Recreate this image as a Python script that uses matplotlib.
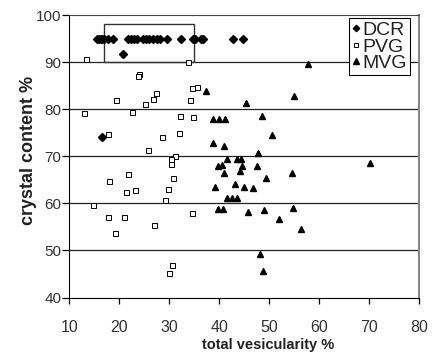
import matplotlib
matplotlib.use('Agg')
import matplotlib.pyplot as plt
from matplotlib.patches import Rectangle

plt.rcParams['font.family'] = ['Liberation Sans', 'DejaVu Sans']

# DCR samples (crystal content ~95 %)
dcr_x = [15.6, 16.0, 16.3, 16.6, 17.0, 17.7, 18.8, 21.8, 22.3, 22.9, 23.6, 24.8, 25.3,
         26.0, 26.7, 27.5, 28.1, 29.5, 32.3, 34.7, 35.1, 36.3, 36.7, 42.8, 44.7, 20.8, 16.6]
dcr_y = [94.8] * 25 + [91.8, 74.1]

# PVG samples
pvg_x = [13.4, 33.7, 23.9, 23.8, 34.5, 35.6, 27.4, 26.8, 19.3, 25.2, 34.1, 13.0, 22.6,
         32.1, 34.8, 17.8, 28.5, 31.9, 25.8, 31.1, 30.3, 30.3, 21.7, 18.0, 30.7, 23.1,
         21.3, 29.8, 29.1, 14.8, 17.7, 21.0, 34.6, 27.0, 19.2, 30.6, 29.9]
pvg_y = [90.7, 90.1, 87.4, 87.1, 84.6, 84.7, 83.4, 82.2, 81.9, 81.0, 81.9, 79.1, 79.3,
         78.5, 78.3, 74.8, 74.0, 74.9, 71.3, 70.1, 69.4, 68.3, 66.2, 64.8, 65.3, 62.8,
         62.4, 63.0, 60.7, 59.6, 57.1, 57.1, 57.9, 55.5, 53.6, 47.0, 45.3]

# MVG samples
mvg_x = [37.3, 45.3, 38.8, 40.0, 41.2, 57.8, 55.0, 48.6, 50.6, 47.8, 44.4, 43.5, 44.5,
         44.2, 47.6, 70.1, 54.6, 49.3, 44.9, 46.7, 45.7, 49.0, 54.7, 52.0, 56.4, 48.1,
         48.8, 38.7, 41.0, 41.5, 39.7, 40.5, 41.0, 39.2, 43.1, 41.5, 42.6, 43.5, 39.7, 40.7]
mvg_y = [83.8, 81.3, 77.9, 77.9, 78.0, 89.5, 82.9, 78.5, 74.5, 70.6, 69.4, 69.4, 67.9,
         66.8, 67.9, 68.6, 66.5, 65.4, 63.4, 63.3, 58.2, 58.6, 59.0, 56.6, 54.5, 49.3,
         45.6, 72.9, 72.2, 69.4, 67.9, 68.1, 66.5, 63.4, 64.1, 61.1, 61.1, 61.1, 58.8, 58.8]

x_ticks = [10, 20, 30, 40, 50, 60, 70, 80]
y_ticks = [40, 50, 60, 70, 80, 90, 100]

fig = plt.figure(figsize=(4.46, 3.60), dpi=100)
ax = fig.add_axes([0.1558, 0.1736, 0.7837, 0.7847])

for y in [50, 60, 70, 80, 90]:
    ax.axhline(y, color='#222222', lw=0.9, zorder=1)

ax.add_patch(Rectangle((17, 90), 18, 8, fill=False, edgecolor='#333333', lw=1.0, zorder=2))

ax.plot(dcr_x, dcr_y, 'D', color='black', ms=3.6, ls='none', label='DCR', zorder=3)
ax.plot(pvg_x, pvg_y, 's', mfc='white', mec='black', mew=0.7, ms=3.6, ls='none',
        label='PVG', zorder=3)
ax.plot(mvg_x, mvg_y, '^', color='black', ms=4.4, ls='none', label='MVG', zorder=3)

ax.set_xlim(10, 80)
ax.set_ylim(40, 100)
ax.set_xticks(x_ticks)
ax.set_yticks(y_ticks)
ax.tick_params(axis='x', direction='out', length=4, width=0.9, pad=12, labelsize=11.5)
ax.tick_params(axis='y', direction='out', length=5, width=0.9, pad=1, labelsize=11)
for lab in ax.get_xticklabels() + ax.get_yticklabels():
    lab.set_color('#333333')

ax.spines['left'].set_color('black')
ax.spines['bottom'].set_color('black')
ax.spines['top'].set_color('#444444')
ax.spines['right'].set_color('#888888')
ax.spines['right'].set_linewidth(1.5)

ax.set_ylabel('crystal content %', fontsize=13, fontweight='bold', color='#222222')
ax.yaxis.set_label_coords(-0.094, 0.52)
ax.set_xlabel('total vesicularity %', fontsize=10.5, fontweight='bold', color='#222222')
ax.xaxis.set_label_coords(0.569, -0.142)

leg = ax.legend(loc='upper right', bbox_to_anchor=(0.974, 0.988), fontsize=14,
                frameon=True, fancybox=False, edgecolor='black', framealpha=1,
                borderpad=0.15, labelspacing=-0.05, handlelength=0.4,
                handletextpad=0.15, borderaxespad=0, markerscale=0.9)
leg.get_frame().set_linewidth(0.8)
for t in leg.get_texts():
    t.set_color('#222222')

plt.savefig('out.png', dpi=100)
